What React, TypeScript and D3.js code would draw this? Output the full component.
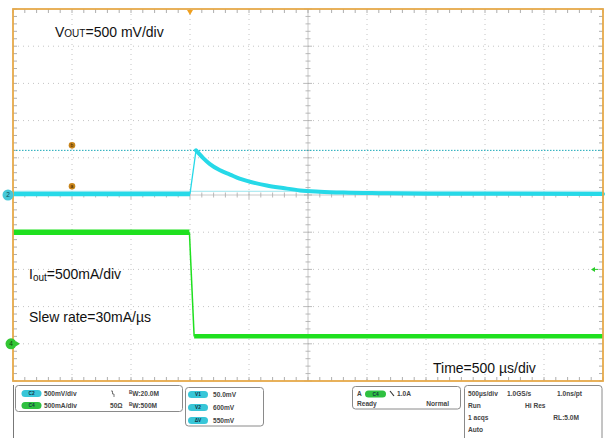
import { useEffect, useRef } from 'react'
import * as d3 from 'd3'

// time in µs relative to the trigger, vout in mV, iout in mA
const timeV = [-1500, 0, 51, 110, 169, 250, 339, 420, 508, 650, 788, 932, 1100, 1300, 1600, 2000, 3500]
const vout = [15, 15, 600, 500, 415, 335, 275, 220, 178, 128, 94, 62, 45, 33, 24, 17, 15]
const timeI = [-1500, -5, 35, 3500]
const iout = [1500, 1500, 100, 100]
const cursorLevels = [50, 600]
const cursorNames = ['a', 'b']
const triggerTime = 0
const triggerLevel = 1000

const chanRows = [
  { chan: 'C2', color: '#38c6d8', scale: '500mV/div', extra: '', bw: '20.0M' },
  { chan: 'C4', color: '#2fc040', scale: '500mA/div', extra: '50\u03a9', bw: '500M' }
]
const cursorRows = [
  { name: 'V1', value: '50.0mV' },
  { name: 'V2', value: '600mV' },
  { name: '\u0394V', value: '550mV' }
]
const acqRows = [
  ['500\u00b5s/div', '1.0GS/s', '1.0ns/pt'],
  ['Run', 'Hi Res', ''],
  ['1 acqs', '', 'RL:5.0M'],
  ['Auto', '', '']
]

const W = 607
const H = 438
const L = 13, R = 603, T = 9, B = 381
const FONT = 'Liberation Sans, Arial, sans-serif'
const CYAN = '#26d9e8'
const GREEN = '#1fe01f'

export default function App() {
  const svgRef = useRef<SVGSVGElement>(null)

  useEffect(() => {
    const svg = d3.select(svgRef.current)
    svg.selectAll('*').remove()

    const x = d3.scaleLinear().domain([-1500, 3500]).range([L, R])
    const yV = d3.scaleLinear().domain([-2500, 2500]).range([B, T])
    const yI = d3.scaleLinear().domain([-500, 4500]).range([B, T])

    svg.append('rect').attr('width', W).attr('height', H).attr('fill', '#fff')

    const grid = svg.append('g')
    const xDivs = d3.range(-1500, 3501, 500)
    const yDivs = d3.range(-2500, 2501, 500)
    const xMinor = d3.range(-1500, 3501, 100)
    const yMinor = d3.range(-2500, 2501, 100)

    // dotted divisions
    grid.selectAll('.vg')
      .data(xDivs.slice(1, -1).filter(d => d !== 1000))
      .join('line')
      .attr('x1', d => x(d)).attr('x2', d => x(d))
      .attr('y1', T).attr('y2', B)
      .attr('stroke', '#c4c4c4').attr('stroke-width', 1)
      .attr('stroke-dasharray', '1,4')
    grid.selectAll('.hg')
      .data(yDivs.slice(1, -1).filter(d => d !== 0))
      .join('line')
      .attr('y1', d => yV(d)).attr('y2', d => yV(d))
      .attr('x1', L).attr('x2', R)
      .attr('stroke', '#c4c4c4').attr('stroke-width', 1)
      .attr('stroke-dasharray', '1,4')

    // center cross
    grid.append('line').attr('x1', x(1000)).attr('x2', x(1000)).attr('y1', T).attr('y2', B)
      .attr('stroke', '#bdbdbd').attr('stroke-width', 0.8)
    grid.append('line').attr('x1', L).attr('x2', R).attr('y1', yV(0)).attr('y2', yV(0))
      .attr('stroke', '#bdbdbd').attr('stroke-width', 0.8)
    grid.selectAll('.cxt').data(xMinor).join('line')
      .attr('x1', d => x(d)).attr('x2', d => x(d))
      .attr('y1', d => yV(0) - (d % 500 === 0 ? 4 : 2.5))
      .attr('y2', d => yV(0) + (d % 500 === 0 ? 4 : 2.5))
      .attr('stroke', '#aaa').attr('stroke-width', 0.8)
    grid.selectAll('.cyt').data(yMinor).join('line')
      .attr('y1', d => yV(d)).attr('y2', d => yV(d))
      .attr('x1', d => x(1000) - (d % 500 === 0 ? 4 : 2.5))
      .attr('x2', d => x(1000) + (d % 500 === 0 ? 4 : 2.5))
      .attr('stroke', '#aaa').attr('stroke-width', 0.8)

    // edge ticks
    grid.selectAll('.tt').data(xMinor).join('line')
      .attr('x1', d => x(d)).attr('x2', d => x(d))
      .attr('y1', T).attr('y2', T + 4)
      .attr('stroke', '#999').attr('stroke-width', 0.8)
    grid.selectAll('.bt').data(xMinor).join('line')
      .attr('x1', d => x(d)).attr('x2', d => x(d))
      .attr('y1', B).attr('y2', B - 4)
      .attr('stroke', '#999').attr('stroke-width', 0.8)
    grid.selectAll('.lt').data(yMinor).join('line')
      .attr('y1', d => yV(d)).attr('y2', d => yV(d))
      .attr('x1', L).attr('x2', L + 4)
      .attr('stroke', '#999').attr('stroke-width', 0.8)
    grid.selectAll('.rt').data(yMinor).join('line')
      .attr('y1', d => yV(d)).attr('y2', d => yV(d))
      .attr('x1', R).attr('x2', R - 4)
      .attr('stroke', '#999').attr('stroke-width', 0.8)

    // cursors
    svg.append('line').attr('x1', L).attr('x2', R)
      .attr('y1', yV(cursorLevels[0])).attr('y2', yV(cursorLevels[0]))
      .attr('stroke', '#9be6ee').attr('stroke-width', 1)
    svg.append('line').attr('x1', L).attr('x2', R)
      .attr('y1', yV(cursorLevels[1])).attr('y2', yV(cursorLevels[1]))
      .attr('stroke', '#1aa8b8').attr('stroke-width', 1).attr('stroke-dasharray', '1.5,1.5')

    // traces: flat parts thick, fast edges thin
    const lineV = d3.line<number>().x(i => x(timeV[i])).y(i => yV(vout[i])).curve(d3.curveMonotoneX)
    const lineI = d3.line<number>().x(i => x(timeI[i])).y(i => yI(iout[i]))
    const idxV = d3.range(timeV.length)

    svg.append('path').attr('d', lineV([0, 1])).attr('fill', 'none')
      .attr('stroke', CYAN).attr('stroke-width', 4.5)
    svg.append('path').attr('d', lineV([1, 2])).attr('fill', 'none')
      .attr('stroke', CYAN).attr('stroke-width', 1.3)
    svg.append('path').attr('d', lineV(idxV.slice(2))).attr('fill', 'none')
      .attr('stroke', CYAN).attr('stroke-width', 4).attr('stroke-linecap', 'round')

    svg.append('path').attr('d', lineI([0, 1])).attr('fill', 'none')
      .attr('stroke', GREEN).attr('stroke-width', 5.5)
    svg.append('path').attr('d', lineI([1, 2])).attr('fill', 'none')
      .attr('stroke', GREEN).attr('stroke-width', 1.5)
    svg.append('path').attr('d', lineI([2, 3])).attr('fill', 'none')
      .attr('stroke', GREEN).attr('stroke-width', 4.5)

    // frame
    svg.append('rect').attr('x', L).attr('y', T).attr('width', R - L).attr('height', B - T)
      .attr('fill', 'none').attr('stroke', '#e6a94a').attr('stroke-width', 1.8)

    // trigger position marker
    const tx = x(triggerTime)
    svg.append('path').attr('d', `M${tx - 3},${T + 1}L${tx + 3},${T + 1}L${tx},${T + 6}Z`)
      .attr('fill', '#f0a020')

    // trigger level marker on right
    const ty = yI(triggerLevel)
    svg.append('path').attr('d', `M${R - 12},${ty}L${R - 8},${ty - 2.5}L${R - 8},${ty + 2.5}Z`)
      .attr('fill', '#2ccc2c')
    svg.append('line').attr('x1', R - 9).attr('x2', R - 5).attr('y1', ty).attr('y2', ty)
      .attr('stroke', '#2ccc2c').attr('stroke-width', 1)

    // cursor markers
    cursorLevels.forEach((lv, i) => {
      const cy = yV(lv) - 5
      svg.append('circle').attr('cx', x(-1000)).attr('cy', cy).attr('r', 3.3).attr('fill', '#c8841a')
      svg.append('text').attr('x', x(-1000)).attr('y', cy + 1.8).attr('text-anchor', 'middle')
        .attr('font-size', 5).attr('font-family', FONT).attr('fill', '#3a2200').text(cursorNames[i])
    })

    // channel ground markers
    svg.append('circle').attr('cx', 8).attr('cy', yV(0)).attr('r', 5.5).attr('fill', '#45c8d8')
    svg.append('text').attr('x', 8).attr('y', yV(0) + 2.2).attr('text-anchor', 'middle')
      .attr('font-size', 6.5).attr('font-family', FONT).attr('fill', '#0b4a55').text('2')
    svg.append('circle').attr('cx', 11).attr('cy', yI(0)).attr('r', 5.5).attr('fill', '#33c633')
    svg.append('text').attr('x', 11).attr('y', yI(0) + 2.2).attr('text-anchor', 'middle')
      .attr('font-size', 6.5).attr('font-family', FONT).attr('fill', '#0d400d').text('4')
    svg.append('path').attr('d', `M${20},${yI(0)}L${16},${yI(0) - 2.5}L${16},${yI(0) + 2.5}Z`)
      .attr('fill', '#33c633')

    // annotations
    const ann = svg.append('g').attr('font-family', FONT).attr('fill', '#111')
    const v = ann.append('text').attr('x', 55).attr('y', 37).attr('font-size', 14)
    v.append('tspan').text('V')
    v.append('tspan').attr('font-size', 10).text('OUT')
    v.append('tspan').text('=500 mV/div')
    const io = ann.append('text').attr('x', 29).attr('y', 279).attr('font-size', 14)
    io.append('tspan').text('I')
    io.append('tspan').attr('font-size', 10).attr('dy', 1.5).text('out')
    io.append('tspan').attr('dy', -1.5).text('=500mA/div')
    ann.append('text').attr('x', 29).attr('y', 322).attr('font-size', 14).text('Slew rate=30mA/\u00b5s')
    ann.append('text').attr('x', 433).attr('y', 373).attr('font-size', 14).text('Time=500 \u00b5s/div')

    // status panel
    const p = svg.append('g').attr('font-family', FONT).attr('font-size', 6.6)
      .attr('font-weight', 'bold').attr('fill', '#444')
    p.append('line').attr('x1', 13.5).attr('x2', 13.5).attr('y1', 385).attr('y2', H)
      .attr('stroke', '#777').attr('stroke-width', 1)

    const box = (bx: number, by: number, bw: number, bh: number) =>
      p.append('rect').attr('x', bx).attr('y', by).attr('width', bw).attr('height', bh)
        .attr('rx', 3).attr('fill', '#fff').attr('stroke', '#8a8a8a').attr('stroke-width', 1)
    const pill = (px: number, py: number, color: string, label: string, w = 20) => {
      p.append('rect').attr('x', px).attr('y', py).attr('width', w).attr('height', 7)
        .attr('rx', 3.5).attr('fill', color)
      p.append('text').attr('x', px + w / 2).attr('y', py + 5.3).attr('text-anchor', 'middle')
        .attr('font-size', 4.8).attr('fill', '#134').text(label)
    }

    box(15.5, 385.5, 167, 26)
    chanRows.forEach((r, i) => {
      const yy = 390 + i * 12
      pill(21.5, yy, r.color, r.chan)
      p.append('text').attr('x', 44).attr('y', yy + 5.5).text(r.scale)
      if (r.extra) p.append('text').attr('x', 110).attr('y', yy + 5.5).text(r.extra)
      else p.append('path').attr('d', `M111,${yy + 1}L112.5,${yy + 1}L112.5,${yy + 4}L114,${yy + 4}L114,${yy + 7}`)
        .attr('fill', 'none').attr('stroke', '#555').attr('stroke-width', 0.8)
      const bwText = p.append('text').attr('x', 129).attr('y', yy + 5.5)
      bwText.append('tspan').attr('font-size', 4.5).attr('dy', -2).text('B')
      bwText.append('tspan').attr('dy', 2).text('W:' + r.bw)
    })

    box(185.5, 387.5, 78, 38.5)
    cursorRows.forEach((r, i) => {
      const yy = 391 + i * 13
      pill(188, yy, '#38c6d8', r.name)
      p.append('text').attr('x', 213).attr('y', yy + 5.5).text(r.value)
    })

    box(352.5, 386.5, 108, 22.5)
    p.append('text').attr('x', 357).attr('y', 396).text('A')
    pill(365, 390.5, '#2fc040', 'C4', 21)
    p.append('path').attr('d', 'M390,391L394,396').attr('stroke', '#333').attr('stroke-width', 1.2)
    p.append('text').attr('x', 397).attr('y', 396).text('1.0A')
    p.append('text').attr('x', 357).attr('y', 405.5).text('Ready')
    p.append('text').attr('x', 449).attr('y', 405.5).attr('text-anchor', 'end').text('Normal')

    box(464.5, 385.5, 137.5, 60)
    const colX = [468, 507, 582]
    acqRows.forEach((row, i) => {
      const yy = 395.5 + i * 12
      row.forEach((t, j) => {
        if (!t) return
        const xx = i === 1 && j === 1 ? 525 : i === 2 && j === 2 ? 579 : colX[j]
        p.append('text').attr('x', xx).attr('y', yy)
          .attr('text-anchor', j === 2 ? 'end' : 'start').text(t)
      })
    })
  }, [])

  return (
    <div style={{ position: 'absolute', left: 0, top: 0 }}>
      <svg ref={svgRef} width={W} height={H} style={{ display: 'block' }} />
    </div>
  )
}
